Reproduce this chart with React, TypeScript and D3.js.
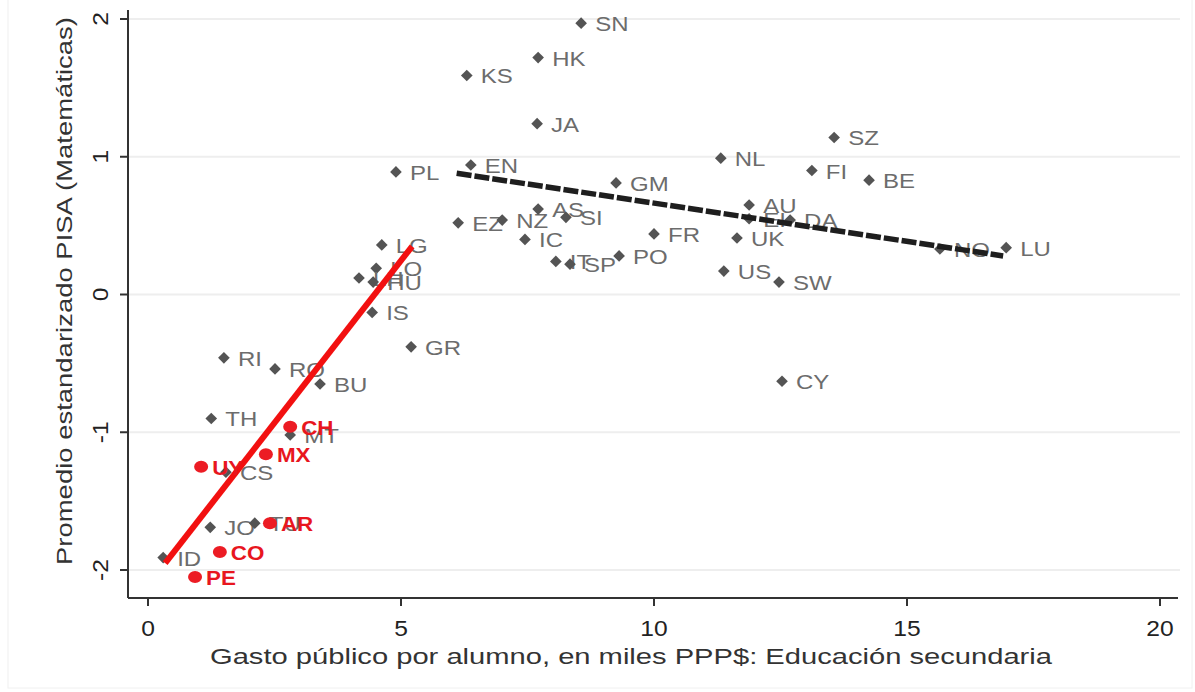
import * as d3 from "d3";

// Gasto público por alumno (miles PPP$) vs. promedio PISA estandarizado
const grayNames = ["SN", "HK", "KS", "JA", "SZ", "NL", "FI", "BE", "PL", "EN", "GM", "AU", "EI", "DA", "UK", "FR", "US", "SW", "CY", "NO", "LU", "EZ", "NZ", "AS", "SI", "IC", "IT", "SP", "PO", "LG", "LO", "LH", "HU", "IS", "GR", "RI", "RO", "BU", "TH", "MT", "CS", "JO", "TU", "ID"];
const grayX = [8.56, 7.71, 6.30, 7.69, 13.56, 11.32, 13.12, 14.25, 4.90, 6.38, 9.25, 11.88, 11.88, 12.69, 11.64, 10.0, 11.38, 12.47, 12.53, 15.65, 16.96, 6.13, 7.0, 7.71, 8.26, 7.45, 8.06, 8.34, 9.31, 4.62, 4.51, 4.17, 4.45, 4.43, 5.20, 1.50, 2.51, 3.40, 1.25, 2.81, 1.54, 1.23, 2.11, 0.30];
const grayY = [1.97, 1.72, 1.59, 1.24, 1.14, 0.99, 0.90, 0.83, 0.89, 0.94, 0.81, 0.65, 0.55, 0.54, 0.41, 0.44, 0.17, 0.09, -0.63, 0.33, 0.34, 0.52, 0.54, 0.62, 0.56, 0.40, 0.24, 0.22, 0.28, 0.36, 0.19, 0.12, 0.09, -0.13, -0.38, -0.46, -0.54, -0.65, -0.90, -1.02, -1.29, -1.69, -1.66, -1.91];

const redNames = ["CH", "MX", "UY", "AR", "CO", "PE"];
const redX = [2.81, 2.33, 1.05, 2.41, 1.42, 0.93];
const redY = [-0.96, -1.16, -1.25, -1.66, -1.87, -2.05];

// líneas de ajuste
const fitLowX = [0.34, 5.22];
const fitLowY = [-1.95, 0.35];
const fitHighX = [6.1, 16.9];
const fitHighY = [0.88, 0.28];

const xTicks = [0, 5, 10, 15, 20];
const yTicks = [-2, -1, 0, 1, 2];

const W = 1195;
const H = 692;

export default function App() {
  const x = d3.scaleLinear().domain([0, 20]).range([148, 1160]);
  const y = d3.scaleLinear().domain([-2, 2]).range([570, 19]);
  const left = 128;
  const right = 1180;
  const bottom = 598;

  const fitPath = (xs: number[], ys: number[]) =>
    d3
      .line<number>()
      .x((_, i) => x(xs[i]))
      .y((_, i) => y(ys[i]))(xs);

  const diamond = d3.symbol().type(d3.symbolSquare).size(68)();

  const font = "Arial, 'Liberation Sans', sans-serif";

  return (
    <svg width={W} height={H} style={{ position: "absolute", left: 0, top: 0, background: "#fff" }}>
      <rect x={8} y={-2} width={1184} height={690} fill="none" stroke="#f0f0f0" />
      {/* grid */}
      {yTicks.map((t) => (
        <line key={"g" + t} x1={left} x2={right} y1={y(t)} y2={y(t)} stroke="#eeeeee" strokeWidth={2} />
      ))}
      {/* axes */}
      <line x1={left} x2={left} y1={10} y2={bottom} stroke="#333" strokeWidth={2} />
      <line x1={left} x2={1178} y1={bottom} y2={bottom} stroke="#333" strokeWidth={2} />
      {yTicks.map((t) => (
        <g key={"yt" + t}>
          <line x1={left - 8} x2={left} y1={y(t)} y2={y(t)} stroke="#333" strokeWidth={2} />
          <text
            transform={`translate(108,${y(t)}) rotate(-90) scale(1.12,1)`}
            textAnchor="middle"
            fontFamily={font}
            fontSize={22}
            fill="#222"
          >
            {t}
          </text>
        </g>
      ))}
      {xTicks.map((t) => (
        <g key={"xt" + t}>
          <line x1={x(t)} x2={x(t)} y1={bottom} y2={bottom + 8} stroke="#333" strokeWidth={2} />
          <text
            transform={`translate(${x(t)},636) scale(1.12,1)`}
            textAnchor="middle"
            fontFamily={font}
            fontSize={22}
            fill="#222"
          >
            {t}
          </text>
        </g>
      ))}
      <text
        x={631}
        y={664}
        textAnchor="middle"
        fontFamily={font}
        fontSize={22}
        fill="#333"
        textLength={842}
        lengthAdjust="spacingAndGlyphs"
      >
        Gasto público por alumno, en miles PPP$: Educación secundaria
      </text>
      <text
        transform={`translate(72,291) rotate(-90)`}
        textAnchor="middle"
        fontFamily={font}
        fontSize={22}
        fill="#333"
        textLength={548}
        lengthAdjust="spacingAndGlyphs"
      >
        Promedio estandarizado PISA (Matemáticas)
      </text>

      {/* gray points */}
      {grayNames.map((n, i) => (
        <g key={n}>
          <path d={diamond} transform={`translate(${x(grayX[i])},${y(grayY[i])}) rotate(45)`} fill="#545454" />
          <text
            transform={`translate(${x(grayX[i]) + 14},${y(grayY[i]) + 8}) scale(1.2,1)`}
            fontFamily={font}
            fontSize={20}
            fill="#6c6c6c"
          >
            {n}
          </text>
        </g>
      ))}

      {/* fit lines */}
      <path
        d={fitPath(fitHighX, fitHighY) || ""}
        fill="none"
        stroke="#1e1e1e"
        strokeWidth={5.5}
        strokeDasharray="15 3"
      />
      <path d={fitPath(fitLowX, fitLowY) || ""} fill="none" stroke="#f21010" strokeWidth={6} />

      {/* red points (América Latina) */}
      {redNames.map((n, i) => (
        <g key={n}>
          <ellipse cx={x(redX[i])} cy={y(redY[i])} rx={7} ry={6} fill="#ec1c24" />
          <text
            transform={`translate(${x(redX[i]) + 11},${y(redY[i]) + 8}) scale(1.12,1)`}
            fontFamily={font}
            fontSize={20}
            fontWeight="bold"
            fill="#e8161e"
          >
            {n}
          </text>
        </g>
      ))}
    </svg>
  );
}
